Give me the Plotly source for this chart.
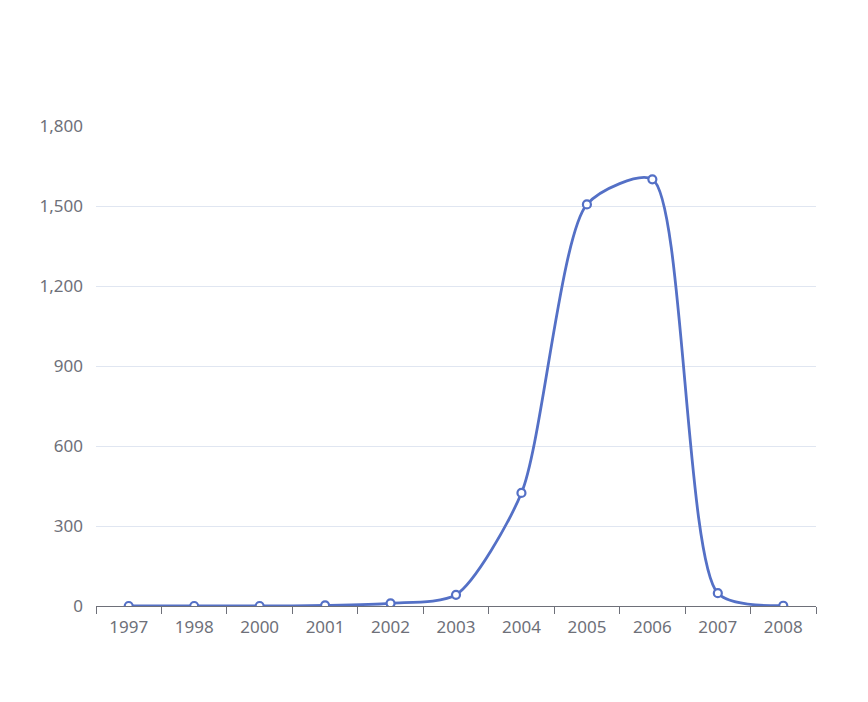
import plotly.graph_objects as go

years = ["1997", "1998", "2000", "2001", "2002", "2003", "2004", "2005", "2006", "2007", "2008"]
values = [0, 0, 0, 2, 10, 42, 424, 1506, 1600, 48, 1]
y_ticks = [0, 300, 600, 900, 1200, 1500, 1800]

fig = go.Figure()
fig.add_trace(go.Scatter(
    x=years, y=values, mode="lines+markers",
    line=dict(color="#5470C6", width=2.8, shape="spline", smoothing=0.7),
    marker=dict(size=8, color="#ffffff", line=dict(color="#5470C6", width=2.2)),
    hoverinfo="x+y",
))

fig.update_layout(
    width=860, height=694,
    margin=dict(l=88, r=52, t=118, b=96),
    paper_bgcolor="#ffffff", plot_bgcolor="#ffffff",
    showlegend=False,
    font=dict(family="Noto Sans, sans-serif", size=17, color="#6E7079"),
    xaxis=dict(
        type="category", categoryorder="array", categoryarray=years,
        tickson="boundaries", ticks="outside", ticklen=7, tickcolor="#6E7079",
        showline=True, linecolor="#6E7079", linewidth=1.2,
        showgrid=False, zeroline=False,
        range=[-0.5, len(years) - 0.5],
        ticklabelstandoff=5,
        tickfont=dict(size=17, color="#6E7079"),
    ),
    yaxis=dict(
        range=[0, 1800], tickvals=y_ticks,
        ticktext=[f"{v:,}" for v in y_ticks],
        showgrid=True, gridcolor="#E0E6F1", gridwidth=1.2,
        zeroline=False, showline=False, ticks="",
        ticklabelstandoff=12,
        tickfont=dict(size=17, color="#6E7079"),
    ),
)

fig.write_html("out.html")
